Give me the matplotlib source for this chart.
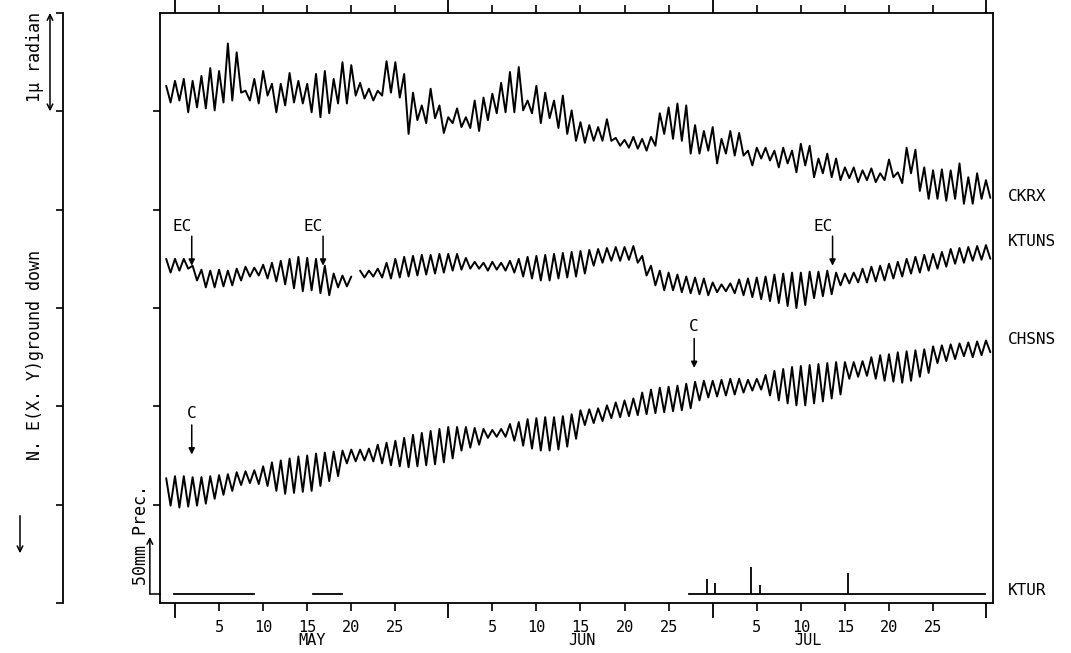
import numpy as np
import matplotlib.pyplot as plt
from matplotlib.patches import FancyArrowPatch
from matplotlib.transforms import blended_transform_factory

plt.rcParams['font.family'] = ['DejaVu Sans Mono']

# day count from 30 April (May 5 -> 5, Jun 5 -> 36, Jul 5 -> 66)
days = np.arange(-1, 93)

# daily high / low tilt readings, in 0.01 micro-radian
ckrx_hi = [526, 531, 533, 531, 536, 544, 541, 569, 560, 521,
           533, 541, 528, 528, 539, 531, 528, 538, 541, 533,
           550, 547, 529, 523, 521, 551, 550, 538, 519, 506,
           523, 506, 494, 503, 494, 511, 514, 518, 529, 540,
           545, 511, 526, 519, 511, 516, 501, 489, 486, 484,
           492, 473, 471, 474, 472, 474, 498, 504, 508, 506,
           486, 480, 484, 472, 480, 478, 460, 463, 463, 460,
           463, 460, 467, 465, 452, 457, 452, 443, 443, 440,
           442, 437, 451, 438, 463, 461, 443, 440, 441, 440,
           447, 433, 437, 430]
ckrx_lo = [509, 511, 499, 504, 503, 501, 509, 511, 519, 511,
           508, 516, 499, 506, 509, 508, 499, 494, 498, 508,
           508, 516, 513, 511, 516, 519, 514, 477, 491, 488,
           493, 478, 488, 484, 483, 480, 491, 498, 499, 499,
           501, 498, 488, 493, 483, 477, 470, 468, 470, 470,
           470, 465, 463, 462, 460, 465, 477, 472, 470, 457,
           457, 460, 447, 457, 455, 455, 445, 452, 450, 443,
           447, 438, 445, 433, 437, 433, 430, 432, 428, 430,
           428, 430, 433, 427, 437, 419, 411, 411, 409, 411,
           406, 406, 411, 412]

ktuns_hi = [350, 350, 350, 343, 339, 338, 339, 338, 340, 342,
            341, 344, 346, 348, 350, 352, 351, 350, 343, 335,
            333, 332, 338, 338, 340, 346, 350, 352, 353, 354,
            354, 355, 355, 355, 351, 347, 346, 347, 346, 348,
            350, 352, 353, 354, 355, 356, 357, 358, 359, 360,
            361, 362, 362, 363, 353, 343, 338, 336, 334, 332,
            331, 330, 326, 324, 325, 329, 330, 331, 332, 334,
            335, 336, 336, 337, 337, 338, 336, 335, 336, 340,
            342, 343, 345, 347, 350, 352, 354, 355, 357, 360,
            361, 362, 363, 364]
ktuns_lo = [336, 338, 340, 328, 321, 321, 322, 323, 328, 332,
            333, 330, 327, 324, 320, 317, 318, 315, 313, 321,
            322, np.nan, 331, 332, 331, 330, 331, 332, 333, 334,
            335, 336, 338, 339, 340, 340, 338, 339, 338, 336,
            332, 330, 328, 328, 330, 331, 332, 335, 343, 346,
            348, 348, 349, 346, 333, 323, 318, 318, 316, 315,
            314, 313, 316, 317, 315, 313, 311, 309, 307, 305,
            302, 300, 303, 310, 312, 314, 323, 325, 326, 326,
            327, 328, 330, 332, 335, 336, 338, 340, 342, 345,
            346, 348, 349, 350]

chsns_hi = [127, 129, 129, 128, 128, 129, 130, 131, 133, 134,
            135, 139, 143, 145, 147, 149, 150, 152, 153, 154,
            155, 156, 156, 157, 161, 163, 165, 168, 171, 173,
            175, 177, 179, 179, 179, 178, 177, 176, 177, 182,
            184, 187, 188, 189, 189, 190, 192, 196, 197, 198,
            201, 204, 206, 208, 214, 217, 219, 220, 221, 223,
            225, 226, 226, 227, 228, 228, 227, 228, 232, 236,
            238, 240, 241, 242, 243, 244, 245, 245, 245, 246,
            250, 252, 253, 255, 256, 257, 258, 261, 262, 263,
            264, 265, 266, 267]
chsns_lo = [99, 97, 98, 99, 101, 106, 110, 114, 120, 122,
            121, 119, 114, 111, 112, 113, 114, 119, 124, 129,
            142, 144, 145, 144, 142, 140, 139, 138, 139, 140,
            141, 143, 147, 155, 158, 161, 168, 169, 169, 165,
            160, 157, 155, 155, 156, 159, 167, 181, 183, 185,
            188, 189, 190, 191, 192, 193, 194, 195, 196, 198,
            206, 209, 210, 211, 212, 214, 216, 217, 211, 206,
            203, 201, 201, 203, 205, 208, 212, 228, 230, 231,
            228, 226, 225, 224, 226, 230, 234, 244, 246, 248,
            251, 250, 252, 255]

# KTUR precipitation: recorded periods and daily totals (mm)
prec_periods = [(-0.1, 9.0), (15.7, 18.9), (58.3, 91.9)]
prec_days = [60.4, 61.3, 65.3, 66.4, 76.3]
prec_mm = [13, 10, 24, 8, 18]

# instrument events
ec_days = [1.9, 16.8, 74.6]
c_days = [1.9, 58.9]

month_starts = [0, 31, 61, 92]
month_names = ['MAY', 'JUN', 'JUL']
month_label_x = [15.5, 46.2, 71.8]


def trace(hi, lo):
    t = np.column_stack([days, days + 0.5]).ravel()
    v = np.column_stack([hi, lo]).ravel() / 100.0
    return t, v


fig = plt.figure(figsize=(10.71, 6.53), dpi=100)
W, H = 1071, 653
ax = fig.add_axes([160 / W, 50 / H, 833 / W, 590 / H])
ax.set_xlim(-1.70, 92.8)
ax.set_ylim(0, 6)

for hi, lo in [(ckrx_hi, ckrx_lo), (ktuns_hi, ktuns_lo), (chsns_hi, chsns_lo)]:
    t, v = trace(hi, lo)
    ax.plot(t, v, color='black', lw=1.4, solid_joinstyle='round',
            solid_capstyle='round')

for s in ax.spines.values():
    s.set_linewidth(1.3)

# x axis: long ticks at month boundaries, 5-day ticks labelled
ax.set_xticks(month_starts)
ax.set_xticklabels([])
five = []
five_lab = []
for m0 in month_starts[:3]:
    for k in range(5, 30, 5):
        five.append(m0 + k)
        five_lab.append(str(k))
ax.set_xticks(five, five_lab, minor=True)
ax.tick_params(axis='x', which='major', direction='out', length=11, width=1.3,
               top=True, bottom=True)
ax.tick_params(axis='x', which='minor', direction='out', length=6, width=1.2,
               top=True, bottom=True, labelsize=11, pad=6)

# y axis: microradian ticks on the right side only
ax.set_yticks([1, 2, 3, 4, 5])
ax.tick_params(axis='y', which='both', left=False, right=True, labelleft=False,
               labelright=False, direction='out', length=5, width=1.2)

xt = blended_transform_factory(ax.transData, ax.transAxes)
for name, xm in zip(month_names, month_label_x):
    ax.text(xm, -0.063, name, transform=xt, ha='center', va='center', fontsize=11)

# station names on the right
yt = blended_transform_factory(ax.transAxes, ax.transData)
for name, yv in [('CKRX', 4.13), ('KTUNS', 3.68), ('CHSNS', 2.68), ('KTUR', 0.13)]:
    ax.text(1.018, yv, name, transform=yt, ha='left', va='center', fontsize=11.5)

# event markers
arrow_kw = dict(arrowstyle='-|>', lw=1.1, color='black', mutation_scale=9,
                shrinkA=0, shrinkB=0)
for d in ec_days:
    ax.annotate('', xy=(d, 3.43), xytext=(d, 3.73), arrowprops=arrow_kw)
    ax.text(d - 1.1, 3.83, 'EC', ha='center', va='center', fontsize=11.5)
for d, tip in zip(c_days, [1.51, 2.39]):
    ax.annotate('', xy=(d, tip), xytext=(d, tip + 0.30), arrowprops=arrow_kw)
    ax.text(d, tip + 0.42, 'C', ha='center', va='center', fontsize=11.5)

# precipitation on its own scale
axp = ax.twinx()
axp.set_ylim(-7.9, 509.6)
axp.set_yticks([])
for s in axp.spines.values():
    s.set_visible(False)
for a, b in prec_periods:
    axp.plot([a, b], [0, 0], color='black', lw=1.3)
axp.vlines(prec_days, 0, prec_mm, color='black', lw=1.3)
axp.annotate('', xy=(-2.85, 50), xytext=(-2.85, 0), annotation_clip=False,
             arrowprops=dict(arrowstyle='->', lw=1.1, color='black',
                             shrinkA=0, shrinkB=0))
axp.plot([-2.85, -1.7], [0, 0], color='black', lw=1.1, clip_on=False)
fig.text(141 / W, 1 - 535 / H, '50mm Prec.', rotation=90, ha='center',
         va='center', fontsize=12)

# outer scale axis, one tick per microradian
axl = fig.add_axes([63 / W, 50 / H, 0.0001, 590 / H])
axl.set_ylim(0, 6)
axl.set_yticks(range(7))
axl.set_yticklabels([])
axl.set_xticks([])
for k in ['top', 'bottom', 'right']:
    axl.spines[k].set_visible(False)
axl.spines['left'].set_linewidth(1.3)
axl.tick_params(axis='y', direction='out', length=5, width=1.2)

ft = blended_transform_factory(fig.transFigure, ax.transData)
ax.annotate('', xy=(50 / W, 6.0), xytext=(50 / W, 5.0), xycoords=ft,
            textcoords=ft, annotation_clip=False,
            arrowprops=dict(arrowstyle='<->', lw=1.1, color='black',
                            shrinkA=0, shrinkB=0))
fig.text(35 / W, 1 - 57 / H, '1\u03bc radian', rotation=90, ha='center',
         va='center', fontsize=12)
fig.text(35 / W, 1 - 355 / H, 'N. E(X. Y)ground down', rotation=90,
         ha='center', va='center', fontsize=12)
fig.add_artist(FancyArrowPatch(
    (20 / W, 1 - 513 / H), (20 / W, 1 - 556 / H), transform=fig.transFigure,
    arrowstyle='->', mutation_scale=10, lw=1.1, color='black'))

fig.savefig('out.png', dpi=100)
